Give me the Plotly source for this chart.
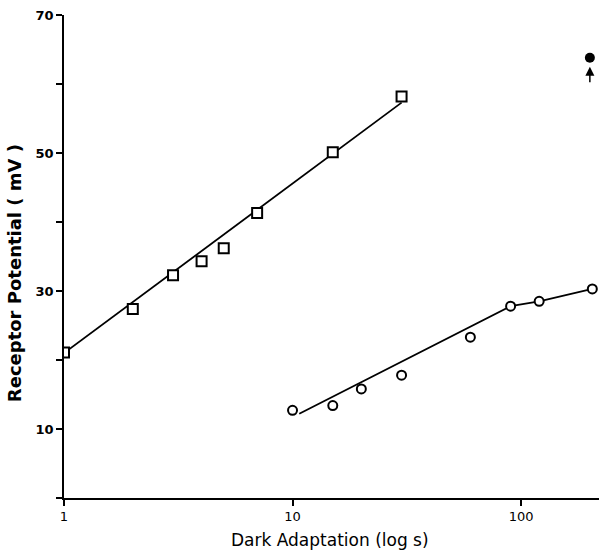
import plotly.graph_objects as go

# Square series (early dark adaptation)
square_x = [1, 2, 3, 4, 5, 7, 15, 30]
square_y = [21.1, 27.4, 32.3, 34.3, 36.2, 41.3, 50.1, 58.2]
square_fit_x = [1, 30]
square_fit_y = [21.0, 57.3]

# Circle series
circle_x = [10, 15, 20, 30, 60, 90, 120, 205]
circle_y = [12.7, 13.4, 15.8, 17.8, 23.3, 27.8, 28.5, 30.3]
circle_fit_x = [10.7, 90, 120, 205]
circle_fit_y = [12.2, 27.8, 28.5, 30.3]

# Filled dot with arrow
dot_x = [200]
dot_y = [63.8]

y_tickvals = [0, 10, 20, 30, 40, 50, 60, 70]
y_ticktext = ["", "10", "", "30", "", "50", "", "70"]
x_tickvals = [1, 10, 100]
x_ticktext = ["1", "10", "100"]

fig = go.Figure()
fig.add_trace(go.Scatter(x=square_fit_x, y=square_fit_y, mode="lines",
                         line=dict(color="black", width=1.8), showlegend=False))
fig.add_trace(go.Scatter(x=circle_fit_x, y=circle_fit_y, mode="lines",
                         line=dict(color="black", width=1.8), showlegend=False))
fig.add_trace(go.Scatter(x=square_x, y=square_y, mode="markers",
                         marker=dict(symbol="square", size=10, color="white",
                                     line=dict(color="black", width=2)),
                         showlegend=False))
fig.add_trace(go.Scatter(x=circle_x, y=circle_y, mode="markers",
                         marker=dict(symbol="circle", size=9, color="white",
                                     line=dict(color="black", width=2)),
                         showlegend=False))
fig.add_trace(go.Scatter(x=dot_x, y=dot_y, mode="markers",
                         marker=dict(symbol="circle", size=10, color="black"),
                         showlegend=False, cliponaxis=False))

fig.add_annotation(x=2.301, y=dot_y[0], xref="x", yref="y", text="",
                   showarrow=True, ax=0, ay=26, arrowhead=2, arrowsize=1.2,
                   arrowwidth=1.5, arrowcolor="black", standoff=9)

fig.add_annotation(x=-0.092, y=0.465, xref="paper", yref="paper",
                   text="Receptor Potential ( mV )", textangle=-90,
                   showarrow=False, xanchor="center", yanchor="middle",
                   font=dict(family="DejaVu Sans", size=18, color="black", weight="bold"))
fig.add_annotation(x=0.497, y=-0.087, xref="paper", yref="paper",
                   text="Dark Adaptation (log s)",
                   showarrow=False, xanchor="center", yanchor="middle",
                   font=dict(family="DejaVu Sans", size=17, color="black"))

fig.update_xaxes(type="log", range=[0, 2.341], tickvals=x_tickvals, ticktext=x_ticktext,
                 showgrid=False, zeroline=False, showline=True, linecolor="black",
                 linewidth=1.5, ticks="outside", ticklen=6, tickwidth=1.5,
                 tickcolor="black",
                 tickfont=dict(family="DejaVu Sans", size=13, color="black"))
fig.update_yaxes(range=[0, 70], tickvals=y_tickvals, ticktext=y_ticktext,
                 showgrid=False, zeroline=False, showline=True, linecolor="black",
                 linewidth=1.5, ticks="outside", ticklen=6, tickwidth=1.5,
                 tickcolor="black",
                 tickfont=dict(family="DejaVu Sans", size=13, color="black", weight="bold"))

fig.update_layout(width=599, height=552, margin=dict(l=64, r=0, t=15, b=54),
                  plot_bgcolor="white", paper_bgcolor="white")

fig.write_html("out.html", config={"displayModeBar": False},
               post_script="document.body.style.margin='0';document.body.style.overflow='hidden';")
